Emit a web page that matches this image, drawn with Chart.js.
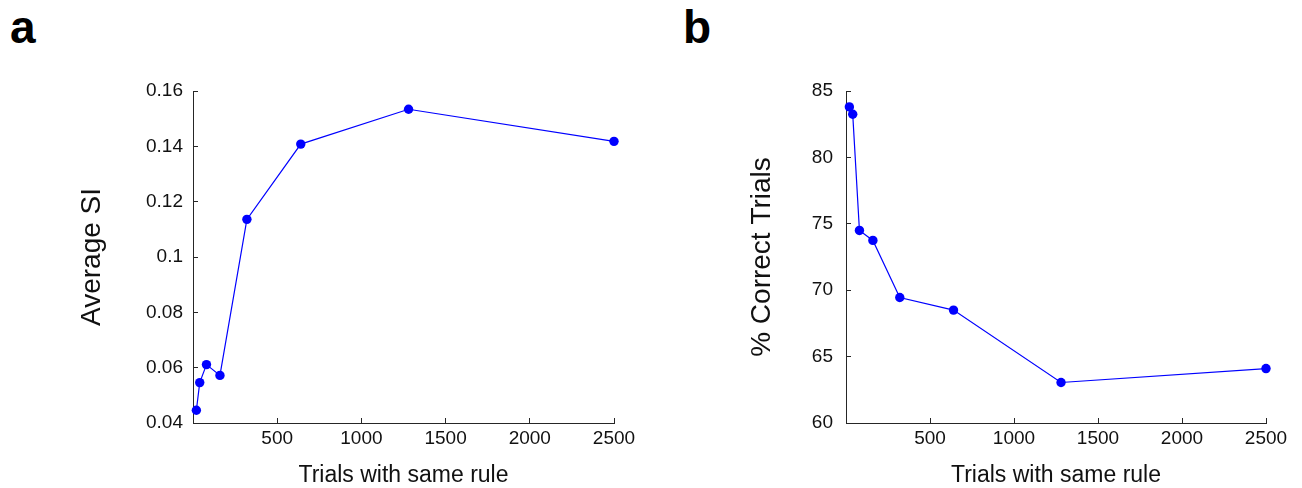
<!DOCTYPE html>
<html>
<head>
<meta charset="utf-8">
<script src="https://cdn.jsdelivr.net/npm/chart.js@4.4.1/dist/chart.umd.min.js"></script>
<style>
  html, body { margin: 0; padding: 0; background: #ffffff; }
  body { width: 1302px; height: 488px; position: relative; overflow: hidden; }
  .panel { position: absolute; top: 0; width: 651px; height: 488px; }
  .letter { position: absolute; font-family: "Liberation Sans", Arial, sans-serif; font-weight: bold;
            font-size: 46px; line-height: 46px; color: #000; }
</style>
</head>
<body>
<div class="letter" style="left:10px; top:4px;">a</div>
<div class="letter" style="left:683px; top:4px;">b</div>
<div class="panel" style="left:0px;"><canvas id="chartA" width="651" height="488"></canvas></div>
<div class="panel" style="left:651px;"><canvas id="chartB" width="651" height="488"></canvas></div>
<script>
// ---- data ----
const trials = [20, 40, 80, 160, 320, 640, 1280, 2500];
const averageSI = [0.0446, 0.0546, 0.0611, 0.0572, 0.1136, 0.1408, 0.1534, 0.1418];
const pctCorrect = [83.8, 83.25, 74.5, 73.75, 69.45, 68.5, 63.05, 64.1];
const xTicks = [500, 1000, 1500, 2000, 2500];
const yTicksA = [0.04, 0.06, 0.08, 0.10, 0.12, 0.14, 0.16];
const yTicksB = [60, 65, 70, 75, 80, 85];
const xTitle = 'Trials with same rule';
const yTitleA = 'Average SI';
const yTitleB = '% Correct Trials';

const FONT = '"Liberation Sans", Arial, sans-serif';
const AXIS_COLOR = '#262626';

function makeChart(canvasId, values, yTicks, yMin, yMax, yTitle, cfg) {
  const pts = trials.map((x, i) => ({ x: x, y: values[i] }));
  return new Chart(document.getElementById(canvasId), {
    type: 'line',
    data: {
      datasets: [{
        data: pts,
        borderColor: '#0000ff',
        backgroundColor: '#0000ff',
        borderWidth: 1.2,
        pointRadius: 4.7,
        pointBorderWidth: 0,
        pointBackgroundColor: '#0000ff',
        tension: 0,
        clip: false
      }]
    },
    options: {
      responsive: false,
      animation: false,
      events: [],
      layout: { padding: { top: 91, right: cfg.right, bottom: 0, left: 0 } },
      plugins: { legend: { display: false }, tooltip: { enabled: false } },
      scales: {
        x: {
          type: 'linear',
          min: 0, max: 2500,
          afterBuildTicks: s => { s.ticks = xTicks.map(v => ({ value: v })); },
          afterFit: s => { s.height = 65; },
          grid: { display: true, drawOnChartArea: false, drawTicks: true, tickLength: -5, color: AXIS_COLOR, lineWidth: 1 },
          border: { display: true, color: AXIS_COLOR, width: 1 },
          ticks: { font: { family: FONT, size: 19 }, color: '#111', padding: 9, maxRotation: 0, autoSkip: false,
                   callback: v => String(v) },
          title: { display: true, text: xTitle, font: { family: FONT, size: 23 }, color: '#111', padding: { top: 0, bottom: -1 } }
        },
        y: {
          type: 'linear',
          min: yMin, max: yMax,
          afterBuildTicks: s => { s.ticks = yTicks.map(v => ({ value: v })); },
          afterFit: s => { s.width = cfg.yWidth; },
          grid: { display: true, drawOnChartArea: false, drawTicks: true, tickLength: -5, color: AXIS_COLOR, lineWidth: 1 },
          border: { display: true, color: AXIS_COLOR, width: 1 },
          ticks: { font: { family: FONT, size: 19 }, color: '#111', padding: cfg.tickPad, autoSkip: false,
                   callback: v => String(parseFloat(Number(v).toFixed(2))) },
          title: { display: true, text: yTitle, font: { family: FONT, size: 28 }, color: '#111', padding: { top: cfg.titlePad, bottom: 0 } }
        }
      }
    }
  });
}

makeChart('chartA', averageSI, yTicksA, 0.04, 0.16, yTitleA, { right: 37, yWidth: 193, tickPad: 15, titlePad: 75 });
makeChart('chartB', pctCorrect, yTicksB, 60, 85, yTitleB, { right: 36, yWidth: 195, tickPad: 18, titlePad: 94 });
</script>
</body>
</html>
